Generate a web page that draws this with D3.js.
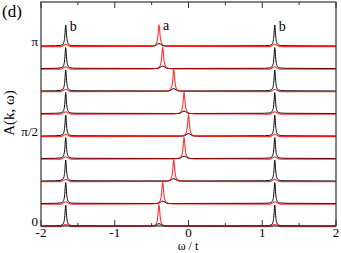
<!DOCTYPE html>
<html>
<head>
<meta charset="utf-8">
<script src="https://cdn.jsdelivr.net/npm/d3@7"></script>
<style>
  body { margin: 0; background: #fff; }
</style>
</head>
<body>
<svg id="chart" width="341" height="253" font-family="'Liberation Serif', 'Times New Roman', Times, 'DejaVu Serif', serif"></svg>
<script>
// k values (rows, bottom to top) in units of pi
const kRows = [0, 1 / 8, 2 / 8, 3 / 8, 4 / 8, 5 / 8, 6 / 8, 7 / 8, 1];
// red peak ("a") position for each row, omega / t
const redPeaks = [-0.40, -0.35, -0.20, -0.06, 0.0, -0.06, -0.20, -0.35, -0.40];
// black peaks ("b"), same in every row
const blackPeaks = [-1.665, 1.17];
const blackHeight = 21;
const redHeight = 22;

// shape of one peak: offset in omega, relative height
const peakDx = [-0.14, -0.09, -0.06, -0.04, -0.028, -0.018, -0.01, -0.004, 0, 0.004, 0.01, 0.018, 0.028, 0.04, 0.06, 0.09, 0.14];
const peakDy = [0.01, 0.02, 0.04, 0.08, 0.15, 0.3, 0.58, 0.9, 1, 0.9, 0.58, 0.3, 0.15, 0.08, 0.04, 0.02, 0.01];
// small foot of one curve under the other curve's peak
const footDx = [-0.07, -0.035, 0, 0.035, 0.07];
const footDy = [0, 0.05, 0.11, 0.05, 0];

const xTicks = [-2, -1, 0, 1, 2];
const xMinor = [-1.5, -0.5, 0.5, 1.5];
const yTicks = [0, 0.5, 1];
const yTickLabels = ['0', 'π/2', 'π'];

const margin = { left: 41, right: 5, top: 2, bottom: 27 };
const width = 341, height = 253;

const svg = d3.select('#chart');
const x = d3.scaleLinear().domain([-2, 2]).range([margin.left, width - margin.right]);
// baseline of k = 0 at 226, k = pi at 46
const y = d3.scaleLinear().domain([0, 1]).range([226, 46]);

function peakPoints(centre, h, widen) {
  return peakDx.map((d, i) => [centre + d * widen, peakDy[i] * h]);
}
function footPoints(centre, h) {
  return footDx.map((d, i) => [centre + d, footDy[i] * h]);
}

const line = d3.line()
  .x((d) => x(d[0]))
  .y((d) => d[1])
  .curve(d3.curveMonotoneX);

const gCurves = svg.append('g');
kRows.forEach((k, i) => {
  const base = y(k);
  // black curve: two big peaks, small foot under the red peak
  let black = [[-2, 0]]
    .concat(peakPoints(blackPeaks[0], blackHeight, 1))
    .concat(footPoints(redPeaks[i], redHeight))
    .concat(peakPoints(blackPeaks[1], blackHeight, 1))
    .concat([[2, 0]]);
  black.sort((a, b) => a[0] - b[0]);
  // red curve: one big peak, small feet under the black peaks
  let red = [[-2, 0]]
    .concat(footPoints(blackPeaks[0], blackHeight))
    .concat(peakPoints(redPeaks[i], redHeight, 1.25))
    .concat(footPoints(blackPeaks[1], blackHeight))
    .concat([[2, 0]]);
  red.sort((a, b) => a[0] - b[0]);

  gCurves.append('path')
    .attr('d', line(black.map((p) => [p[0], base - p[1]])))
    .attr('fill', 'none')
    .attr('stroke', '#000')
    .attr('stroke-width', 1);
  gCurves.append('path')
    .attr('d', line(red.map((p) => [p[0], base + 0.6 - p[1]])))
    .attr('fill', 'none')
    .attr('stroke', '#ff0000')
    .attr('stroke-opacity', 0.8)
    .attr('stroke-width', 1.1);
});

// frame
svg.append('rect')
  .attr('x', margin.left)
  .attr('y', margin.top)
  .attr('width', width - margin.right - margin.left)
  .attr('height', 226 - margin.top)
  .attr('fill', 'none')
  .attr('stroke', '#333')
  .attr('stroke-width', 1.2);

// ticks, inward, top and bottom
const gTicks = svg.append('g').attr('stroke', '#333').attr('stroke-width', 1);
xTicks.concat(xMinor).forEach((t) => {
  const len = xTicks.includes(t) ? 6 : 3;
  gTicks.append('line').attr('x1', x(t)).attr('x2', x(t)).attr('y1', 226).attr('y2', 226 - len);
  gTicks.append('line').attr('x1', x(t)).attr('x2', x(t)).attr('y1', margin.top).attr('y2', margin.top + len);
});

// tick labels
svg.append('g').selectAll('text').data(xTicks).join('text')
  .attr('x', (d) => x(d))
  .attr('y', 237)
  .attr('text-anchor', 'middle')
  .attr('font-size', 13)
  .text((d) => d);

svg.append('g').selectAll('text').data(yTicks).join('text')
  .attr('x', 38)
  .attr('y', (d) => y(d))
  .attr('text-anchor', 'end')
  .attr('font-size', 13)
  .text((d, i) => yTickLabels[i]);

// axis titles
svg.append('text')
  .attr('x', 188)
  .attr('y', 250)
  .attr('text-anchor', 'middle')
  .attr('font-size', 12)
  .text('ω / t');

svg.append('text')
  .attr('transform', 'translate(14,113) rotate(-90)')
  .attr('text-anchor', 'middle')
  .attr('font-size', 15)
  .text('A(k, ω)');

svg.append('text')
  .attr('x', 2)
  .attr('y', 17)
  .attr('font-size', 17)
  .text('(d)');

// peak labels on the top row
const topBase = y(1);
svg.append('text').attr('x', x(blackPeaks[0]) + 4).attr('y', topBase - 15).attr('font-size', 14).text('b');
svg.append('text').attr('x', x(redPeaks[8]) + 4).attr('y', topBase - 16).attr('font-size', 14).text('a');
svg.append('text').attr('x', x(blackPeaks[1]) + 4).attr('y', topBase - 15).attr('font-size', 14).text('b');
</script>
</body>
</html>
